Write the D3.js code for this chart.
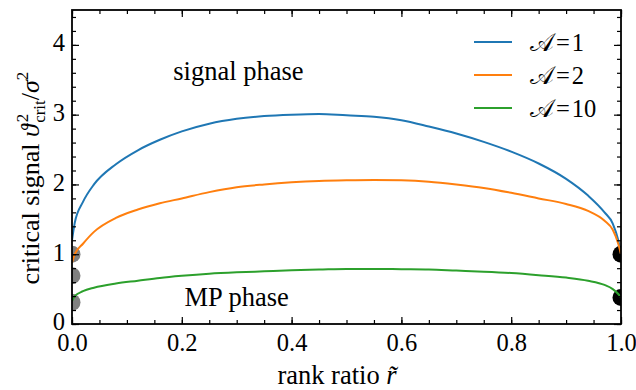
<!DOCTYPE html>
<html>
<head>
<meta charset="utf-8">
<script src="https://cdn.jsdelivr.net/npm/d3@7"></script>
<style>
  body { margin: 0; background: #fff; }
  svg text { font-family: "Liberation Serif", "DejaVu Serif", serif; fill: #000; }
</style>
</head>
<body>
<svg id="chart" width="636" height="390"></svg>
<script>
// rank ratio grid shared by all three curves
var rankRatio = [0, 0.005, 0.02, 0.04, 0.08, 0.12, 0.16, 0.2, 0.25, 0.3, 0.35, 0.4, 0.45, 0.5,
                 0.55, 0.6, 0.65, 0.7, 0.75, 0.8, 0.85, 0.9, 0.94, 0.97, 0.985, 0.995, 1.0];
var critA1  = [1.2, 1.45, 1.75, 2.0, 2.29, 2.49, 2.64, 2.76, 2.87, 2.94, 2.98, 3.0, 3.01, 2.99,
               2.97, 2.92, 2.83, 2.73, 2.61, 2.47, 2.3, 2.08, 1.84, 1.6, 1.44, 1.2, 1.0];
var critA2  = [0.88, 1.0, 1.15, 1.32, 1.52, 1.64, 1.73, 1.8, 1.89, 1.96, 2.0, 2.03, 2.05, 2.06,
               2.065, 2.06, 2.04, 2.0, 1.95, 1.88, 1.8, 1.72, 1.62, 1.48, 1.35, 1.15, 1.0];
var critA10 = [0.33, 0.4, 0.47, 0.52, 0.58, 0.62, 0.66, 0.69, 0.72, 0.74, 0.755, 0.77, 0.78, 0.79,
               0.79, 0.785, 0.78, 0.765, 0.75, 0.73, 0.7, 0.665, 0.62, 0.56, 0.5, 0.43, 0.38];
var seriesLabels = ["1", "2", "10"];
var seriesColors = ["#1f77b4", "#ff7f0e", "#2ca02c"];
var leftDots  = [1.0, 0.69, 0.31];   // grey markers at r = 0
var rightDots = [1.0, 0.38];         // black markers at r = 1
var xTicks = [0, 0.2, 0.4, 0.6, 0.8, 1.0];
var yTicks = [0, 1, 2, 3, 4];

var tickSize = 24.5, fontSize = 26.5, smallSize = 17;

var margin = {top: 10, right: 15, bottom: 66, left: 72},
    width = 636 - margin.left - margin.right,
    height = 390 - margin.top - margin.bottom;

var svg = d3.select("#chart");
var g = svg.append("g").attr("transform", "translate(" + margin.left + "," + margin.top + ")");

var x = d3.scaleLinear().domain([0, 1]).range([0, width]);
var y = d3.scaleLinear().domain([0, 4.5]).range([height, 0]);

g.append("clipPath").attr("id", "plot-clip")
  .append("rect").attr("width", width).attr("height", height);

var plot = g.append("g").attr("clip-path", "url(#plot-clip)");

// markers first so the lines sit on top
plot.selectAll(".left-dot").data(leftDots).enter().append("circle")
  .attr("cx", x(0)).attr("cy", d => y(d)).attr("r", 8.5)
  .attr("fill", "#808080");
plot.selectAll(".right-dot").data(rightDots).enter().append("circle")
  .attr("cx", x(1)).attr("cy", d => y(d)).attr("r", 8.5)
  .attr("fill", "#000");

var series = [critA1, critA2, critA10];
var line = d3.line()
  .x((d, i) => x(rankRatio[i]))
  .y(d => y(d))
  .curve(d3.curveMonotoneX);

plot.selectAll(".curve").data(series).enter().append("path")
  .attr("d", d => line(d))
  .attr("fill", "none")
  .attr("stroke", (d, i) => seriesColors[i])
  .attr("stroke-width", 2);

// axes: inward ticks on all sides, minor + major
function tickAxis(axisFn, scale, major, minor, showLabels, fmt, pad){
  var a = axisFn(scale).tickValues(major).tickSize(-7).tickPadding(pad);
  a.tickFormat(showLabels ? fmt : "");
  var m = axisFn(scale).tickValues(minor).tickSize(-4).tickFormat("");
  return [a, m];
}
var xMinor = d3.range(0, 1.0001, 0.05).map(v => +v.toFixed(2));
var yMinor = d3.range(0, 4.5001, 0.2).map(v => +v.toFixed(1));
var fx = d3.format(".1f"), fy = d3.format("d");

var axes = [
  {fn: d3.axisBottom, s: x, maj: xTicks, min: xMinor, lab: true, f: fx, p: 10, t: "translate(0," + height + ")"},
  {fn: d3.axisTop, s: x, maj: xTicks, min: xMinor, lab: false, f: fx, p: 10, t: "translate(0,0)"},
  {fn: d3.axisLeft, s: y, maj: yTicks, min: yMinor, lab: true, f: fy, p: 7, t: "translate(0,0)"},
  {fn: d3.axisRight, s: y, maj: yTicks, min: yMinor, lab: false, f: fy, p: 7, t: "translate(" + width + ",0)"}
];
axes.forEach(function(ax){
  var pair = tickAxis(ax.fn, ax.s, ax.maj, ax.min, ax.lab, ax.f, ax.p);
  var ga = g.append("g").attr("transform", ax.t).call(pair[0]);
  var gm = g.append("g").attr("transform", ax.t).call(pair[1]);
  [ga, gm].forEach(function(sel){
    sel.select(".domain").remove();
    sel.selectAll("line").attr("stroke", "#000").attr("stroke-width", 1.2);
    sel.selectAll("text").style("font-size", tickSize + "px")
      .style("font-family", "Liberation Serif, serif").attr("fill", "#000");
  });
  // the y labels sit a touch above their ticks, as in the source
  if (ax.fn === d3.axisLeft) ga.selectAll("text").attr("dy", "0.24em");
});
g.append("rect").attr("width", width).attr("height", height)
  .attr("fill", "none").attr("stroke", "#000").attr("stroke-width", 1.8);

// phase annotations
g.append("text").attr("x", x(0.303)).attr("y", y(3.49))
  .attr("text-anchor", "middle").style("font-size", fontSize + "px").text("signal phase");
g.append("text").attr("x", x(0.3)).attr("y", y(0.26))
  .attr("text-anchor", "middle").style("font-size", fontSize + "px").text("MP phase");

// axis titles
var xt = svg.append("text").attr("x", 337).attr("y", 384)
  .attr("text-anchor", "middle").style("font-size", fontSize + "px");
xt.append("tspan").text("rank ratio ");
xt.append("tspan").style("font-style", "italic").text("r\u0303");

var yt = svg.append("text")
  .attr("transform", "translate(39,178) rotate(-90)")
  .attr("text-anchor", "middle").style("font-size", "26px");
yt.append("tspan").text("critical signal ");
yt.append("tspan").style("font-style", "italic").text("\u03d1");
yt.append("tspan").attr("dx", 2).attr("dy", -11).style("font-size", smallSize + "px").text("2");
yt.append("tspan").attr("dx", -9).attr("dy", 17).style("font-size", smallSize + "px").text("crit");
yt.append("tspan").attr("dy", -6).text("/");
yt.append("tspan").style("font-style", "italic").text("\u03c3");
yt.append("tspan").attr("dy", -11).style("font-size", smallSize + "px").text("2");

// legend
var legend = g.append("g").attr("transform", "translate(" + (474 - margin.left) + "," + (42 - margin.top) + ")");
seriesLabels.forEach(function(lbl, i){
  var row = legend.append("g").attr("transform", "translate(0," + (i * 33) + ")");
  row.append("line").attr("x1", 0).attr("x2", 38).attr("stroke", seriesColors[i]).attr("stroke-width", 2);
  var t = row.append("text").attr("x", 56).attr("y", 9).style("font-size", tickSize + "px");
  t.append("tspan").text("\ud835\udc9c");
  t.append("tspan").attr("dx", 2).text("=");
  t.append("tspan").attr("dx", 2).text(lbl);
});
</script>
</body>
</html>
